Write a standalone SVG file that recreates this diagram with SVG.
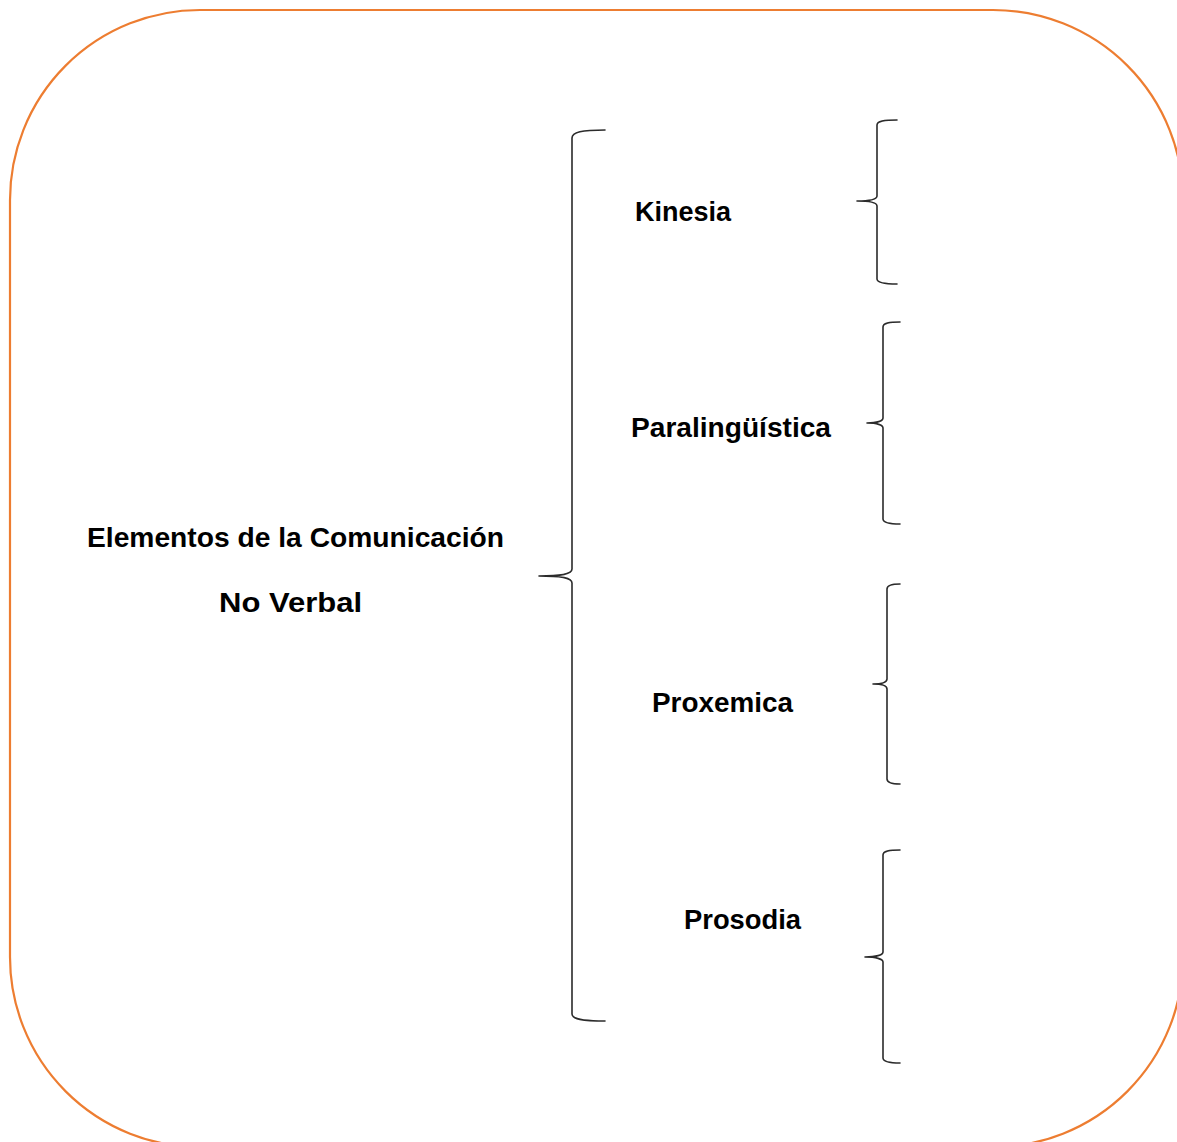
<svg xmlns="http://www.w3.org/2000/svg" width="1177" height="1142" viewBox="0 0 1177 1142">
  <style>
    .frame { fill: #ffffff; stroke: #ED7D31; stroke-width: 2.2; }
    .brace { fill: none; stroke: #2b2b2b; stroke-width: 1.6; stroke-linejoin: round; stroke-linecap: round; }
    .lbl { font-family: "Comic Sans MS", "Liberation Sans", "DejaVu Sans", sans-serif; font-weight: bold; font-size: 27px; fill: #000000; }
  </style>
  <rect width="1177" height="1142" fill="#ffffff"/>
  <rect class="frame" x="10" y="10" width="1173" height="1137" rx="190" ry="190"/>

  <g id="connectors">
    <path id="brace-main" class="brace" d="M605,130 C582,130 572,132 572,138 L572,569 C572,574 562,576 539,576 C562,576 572,578 572,583 L572,1014 C572,1019 582,1021 605,1021"/>
    <path id="brace-kinesia" class="brace" d="M897,120 C884,120 877,121 877,125 L877,196 C877,199 870,201 857,201 C870,201 877,203 877,206 L877,279 C877,282 884,284 897,284"/>
    <path id="brace-paralinguistica" class="brace" d="M900,322 C889,322 883,323 883,327 L883,418 C883,421 877,423 867,423 C877,423 883,425 883,428 L883,519 C883,522 889,524 900,524"/>
    <path id="brace-proxemica" class="brace" d="M900,584 C892,584 887,585 887,589 L887,679 C887,682 882,684 873,684 C882,684 887,686 887,689 L887,779 C887,782 892,784 900,784"/>
    <path id="brace-prosodia" class="brace" d="M900,850 C889,850 883,851 883,855 L883,952 C883,955 876,957 865,957 C876,957 883,959 883,962 L883,1058 C883,1061 889,1063 900,1063"/>
  </g>

  <g id="node-root">
    <text class="lbl" x="87" y="547" textLength="417" lengthAdjust="spacingAndGlyphs">Elementos de la Comunicación</text>
    <text class="lbl" x="219" y="612" textLength="143" lengthAdjust="spacingAndGlyphs">No Verbal</text>
  </g>
  <g id="node-kinesia">
    <text class="lbl" x="635" y="221" textLength="96" lengthAdjust="spacingAndGlyphs">Kinesia</text>
  </g>
  <g id="node-paralinguistica">
    <text class="lbl" x="631" y="437" textLength="200" lengthAdjust="spacingAndGlyphs">Paralingüística</text>
  </g>
  <g id="node-proxemica">
    <text class="lbl" x="652" y="712" textLength="141" lengthAdjust="spacingAndGlyphs">Proxemica</text>
  </g>
  <g id="node-prosodia">
    <text class="lbl" x="684" y="929" textLength="117" lengthAdjust="spacingAndGlyphs">Prosodia</text>
  </g>
</svg>
